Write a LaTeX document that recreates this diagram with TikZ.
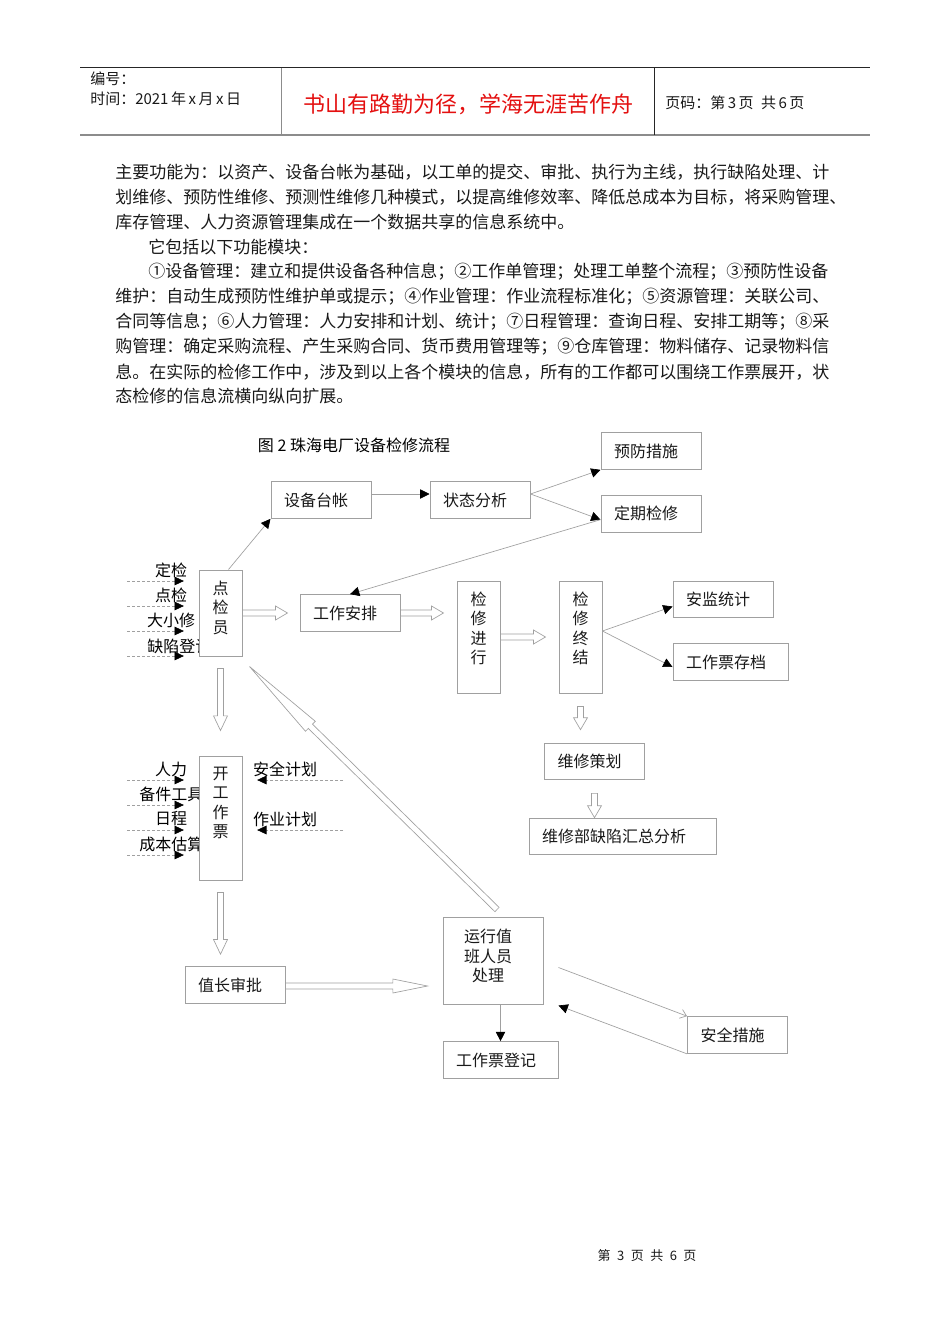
\documentclass[tikz,border=0pt]{standalone}
\usepackage{fontspec}
\setmainfont{Noto Sans CJK SC}
\usepackage{tikz}
\usetikzlibrary{positioning, arrows.meta, calc}
\definecolor{lgray}{RGB}{160,160,160}
\definecolor{ink}{RGB}{25,25,25}
\definecolor{hdred}{RGB}{228,16,16}
\newcommand{\dgfont}{\fontsize{12pt}{14.5pt}\selectfont}
\newcommand{\bodyfont}{\fontsize{12.75pt}{18pt}\selectfont}
\newcommand{\hdfont}{\fontsize{11.25pt}{13pt}\selectfont}
\newcommand{\vcol}[3]{\parbox[c][#1][t]{#2}{\centering\vspace{8.25pt}#3}}
\tikzset{box/.style={draw=lgray, fill=white, line width=0.75pt, font=\dgfont, text=ink, align=left, inner xsep=9.75pt, inner ysep=0pt, minimum height=27.5pt, text width=#1}, box/.default=55.5pt,
vbox/.style={draw=lgray, fill=white, line width=0.75pt, font=\dgfont, text=ink, inner sep=0pt},
lab/.style={font=\dgfont, text=black, inner sep=0pt},
para/.style={font=\bodyfont, text=ink, inner sep=0pt, anchor=west},
flow/.style={draw=lgray, line width=0.5pt, -{Triangle[length=7pt, width=7pt, color=black]}},
feed/.style={draw=lgray, line width=0.5pt, dash pattern=on 2.25pt off 1.5pt, shorten >=11pt, -{Triangle[length=7pt, width=6.5pt, color=black]}},
fat/.style={draw=lgray, line width=0.5pt, fill=white, to path={(\tikztostart) coordinate (fa) (\tikztotarget) coordinate (fb) ($(fb)!#1!(fa)$) coordinate (fh) ($(fa)!2.25pt!90:(fb)$) -- ($(fh)!2.25pt!90:(fb)$) -- ($(fh)!5.25pt!90:(fb)$) -- (fb) -- ($(fh)!5.25pt!-90:(fb)$) -- ($(fh)!2.25pt!-90:(fb)$) -- ($(fa)!2.25pt!-90:(fb)$) -- cycle}}, fat/.default=9pt}

\begin{document}
\begin{tikzpicture}[x=0.75pt, y=-0.75pt]
  \useasboundingbox[fill=white] (0,0) rectangle (950,1344);

  % Header
  \draw[line width=0.75pt, black!85] (80,68) -- (870,68);
  \draw[line width=1.5pt, black!45] (80,135) -- (870,135);
  \draw[line width=0.75pt, black!45] (281,68) -- (281,135);
  \draw[line width=0.75pt, black!85] (654,68) -- (654,135);
  \node[para, font=\hdfont] (hno) at (90,79) {编号：};
  \node[para, font=\hdfont] (htime) at (90,99) {时间：2021\,年\,x\,月\,x\,日};
  \node[font=\fontsize{16.5pt}{18pt}\selectfont, text=hdred, inner sep=0pt] (motto) at (468,104)
    {书山有路勤为径，学海无涯苦作舟};
  \node[para, font=\hdfont] (hpage) at (665,103) {页码：第\,3\,页\enspace 共\,6\,页};

  % Body text
  \node[para] (l1) at (115,172) {主要功能为：以资产、设备台帐为基础，以工单的提交、审批、执行为主线，执行缺陷处理、计};
  \node[para] (l2) at (115,197) {划维修、预防性维修、预测性维修几种模式，以提高维修效率、降低总成本为目标，将采购管理、};
  \node[para] (l3) at (115,222) {库存管理、人力资源管理集成在一个数据共享的信息系统中。};
  \node[para] (l4) at (148,247) {它包括以下功能模块：};
  \node[para] (l5) at (148,272) {①设备管理：建立和提供设备各种信息；②工作单管理；处理工单整个流程；③预防性设备};
  \node[para] (l6) at (115,297) {维护：自动生成预防性维护单或提示；④作业管理：作业流程标准化；⑤资源管理：关联公司、};
  \node[para] (l7) at (115,322) {合同等信息；⑥人力管理：人力安排和计划、统计；⑦日程管理：查询日程、安排工期等；⑧采};
  \node[para] (l8) at (115,347) {购管理：确定采购流程、产生采购合同、货币费用管理等；⑨仓库管理：物料储存、记录物料信};
  \node[para] (l9) at (115,372) {息。在实际的检修工作中，涉及到以上各个模块的信息，所有的工作都可以围绕工作票展开，状};
  \node[para] (l10) at (115,396) {态检修的信息流横向纵向扩展。};

  % Top row
  \node[lab] (title) at (354,445) {图 2 珠海电厂设备检修流程};
  \node[box] (prev) at (651,451) {预防措施};
  \node[box, below=18.75pt of prev] (peri) {定期检修};
  \node[box] (ledg) at (321,500) {设备台帐};
  \node[box, right=43.5pt of ledg] (stat) {状态分析};

  % Inputs of 点检员
  \node[lab] (in1) at (171,570) {定检};
  \node[lab] (in2) at (171,595) {点检};
  \node[lab] (in3) at (171,620) {大小修};
  \node[lab, anchor=west] (in4) at (147,646) {缺陷登记};
  \node[vbox] (djy) at (220.5,613) {\vcol{64.5pt}{32.25pt}{点\\检\\员}};

  % Middle row
  \node[box, right=42.75pt of djy] (arr) {工作安排};
  \node[vbox] (run) at (478.5,637) {\vcol{84pt}{32.25pt}{检\\修\\进\\行}};
  \node[vbox, right=43.5pt of run] (fin) {\vcol{84pt}{32.25pt}{检\\修\\终\\结}};
  \node[box] (safe) at (723,599.5) {安监统计};
  \node[box=66.75pt] (arch) at (730.5,662) {工作票存档};
  \node[box] (plan) at (594.5,761.5) {维修策划};
  \node[box=120.75pt] (summ) at (622.5,836.5) {维修部缺陷汇总分析};

  % Inputs of 开工作票
  \node[lab] (rl) at (171,769) {人力};
  \node[lab, anchor=west] (bj) at (139,794) {备件工具};
  \node[lab] (rc) at (171,819) {日程};
  \node[lab, anchor=west] (cb) at (139,844) {成本估算};
  \node[lab] (aq) at (285,769) {安全计划};
  \node[lab] (zy) at (285,819) {作业计划};
  \node[vbox] (tick) at (220.5,818) {\vcol{93pt}{32.25pt}{开\\工\\作\\票}};

  % Bottom row
  \node[box] (appr) at (235,985) {值长审批};
  \node[vbox] (duty) at (493,960.5)
    {\parbox[c][65.25pt][t]{75pt}{\centering\advance\rightskip 7.5pt\relax\vspace{9.25pt}运行值\\班人员\\处理}};
  \node[box=66.75pt] (reg) at (500.5,1060) {工作票登记};
  \node[box] (meas) at (737.5,1035) {安全措施};

  % dashed inputs
  \coordinate (f1) at (127,581); \coordinate (f2) at (127,606);
  \coordinate (f3) at (127,631); \coordinate (f4) at (127,656);
  \coordinate (g1) at (127,780); \coordinate (g2) at (127,805);
  \coordinate (g3) at (127,830); \coordinate (g4) at (127,855);
  \coordinate (h1) at (343,780); \coordinate (h2) at (343,830);
  \draw[feed] (f1) -- (f1 -| djy.west); \draw[feed] (f2) -- (f2 -| djy.west);
  \draw[feed] (f3) -- (f3 -| djy.west); \draw[feed] (f4) -- (f4 -| djy.west);
  \draw[feed] (g1) -- (g1 -| tick.west); \draw[feed] (g2) -- (g2 -| tick.west);
  \draw[feed] (g3) -- (g3 -| tick.west); \draw[feed] (g4) -- (g4 -| tick.west);
  \draw[feed] (h1) -- (h1 -| tick.east); \draw[feed] (h2) -- (h2 -| tick.east);

  % thin arrows
  \draw[flow] ($(djy.north)+(8,0)$) -- (ledg.south west);
  \draw[flow] ($(ledg.east)+(0,-6)$) -- ($(stat.west)+(0,-6)$);
  \draw[flow] ($(stat.east)+(0,-6)$) -- (prev.south west);
  \draw[flow] ($(stat.east)+(0,-6)$) -- ($(peri.west)+(0,6)$);
  \draw[flow] ($(peri.west)+(0,6)$) -- (arr.north);
  \draw[flow] ($(fin.east)+(0,-6)$) -- ($(safe.west)+(0,7)$);
  \draw[flow] ($(fin.east)+(0,-6)$) -- ($(arch.west)+(0,5)$);
  \draw[flow] (duty.south -| reg.north) -- (reg.north);
  \draw[draw=lgray, line width=0.5pt, -{Straight Barb[length=4.5pt, width=7pt]}] ($(duty.east)+(15,7)$) -- (meas.north west);
  \draw[flow] (meas.south west) -- ($(duty.south east)+(15,1)$);

  % hollow arrows
  \draw[fat] (djy.east) to ($(arr.west)+(-12,0)$);
  \draw[fat] (arr.east) to ($(arr.east -| run.west)+(-13,0)$);
  \draw[fat] (run.east) to ($(fin.west)+(-13,0)$);
  \draw[fat] ($(fin.south)+(0,13)$) to ($(fin.south |- plan.north)+(0,-13)$);
  \draw[fat] ($(plan.south)+(0,13)$) to (plan.south |- summ.north);
  \draw[fat=11pt] ($(djy.south)+(0,12)$) to ($(djy.south |- tick.north)+(0,-25)$);
  \draw[fat=11pt] ($(tick.south)+(0,12)$) to ($(tick.south |- appr.north)+(0,-12)$);
  \draw[fat=26pt] ($(appr.east)+(0,1)$) to ($(duty.west |- appr.east)+(-15,1)$);
  \draw[fat=64pt] ($(duty.north)+(4,-7)$) to ($(djy.south east)+(7,10)$);

  % Footer
  \node[font=\fontsize{9.75pt}{11pt}\selectfont, text=ink, inner sep=0pt] (foot) at (647,1256)
    {第\enspace 3\enspace 页\enspace 共\enspace 6\enspace 页};
\end{tikzpicture}
\end{document}
